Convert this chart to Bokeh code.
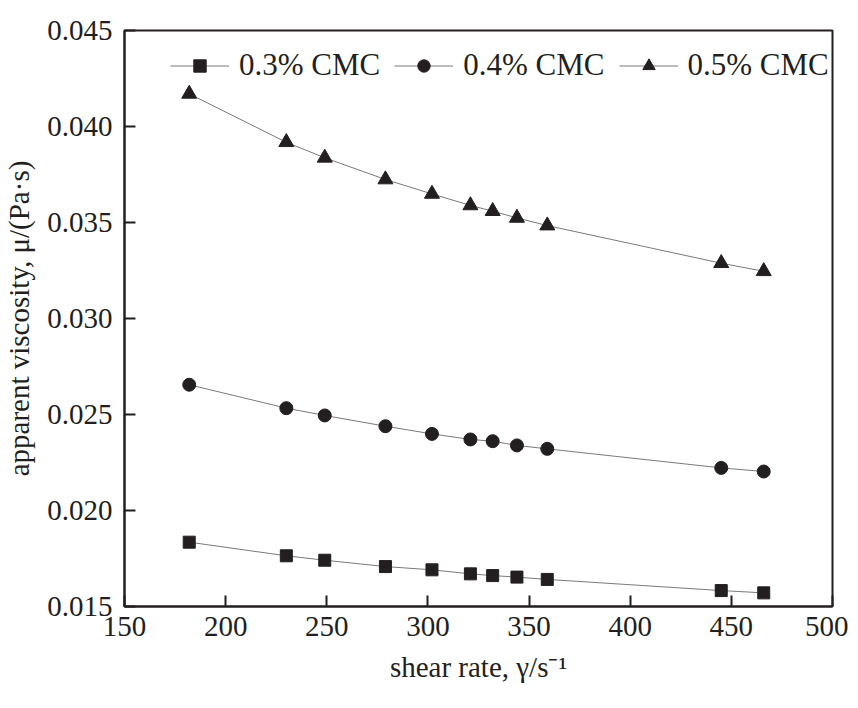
from bokeh.plotting import figure
from bokeh.embed import file_html
from bokeh.resources import INLINE
from bokeh.models import FixedTicker, PrintfTickFormatter, Range1d

# data
shear_rate = [182, 230, 249, 279, 302, 321, 332, 344, 359, 445, 466]
cmc_03 = [0.01835, 0.01764, 0.01741, 0.01708, 0.01691, 0.01670, 0.01661, 0.01653, 0.01641, 0.01583, 0.01571]
cmc_04 = [0.02655, 0.02533, 0.02495, 0.02439, 0.02399, 0.02370, 0.02361, 0.02339, 0.02321, 0.02222, 0.02203]
cmc_05 = [0.04170, 0.03918, 0.03837, 0.03724, 0.03649, 0.03589, 0.03559, 0.03524, 0.03484, 0.03288, 0.03246]
series_labels = ["0.3% CMC", "0.4% CMC", "0.5% CMC"]
x_ticks = [150, 200, 250, 300, 350, 400, 450, 500]
y_ticks = [0.015, 0.020, 0.025, 0.030, 0.035, 0.040, 0.045]

FONT = "Liberation Serif"
INK = "#231f20"

p = figure(frame_width=708, frame_height=576,
           min_border_left=118, min_border_top=30, min_border_right=16, min_border_bottom=86,
           x_range=Range1d(150, 500), y_range=Range1d(0.015, 0.045),
           output_backend="svg", toolbar_location=None)

p.xgrid.visible = False
p.ygrid.visible = False
p.outline_line_color = INK
p.outline_line_width = 2
p.outline_line_alpha = 1
p.background_fill_color = "white"
p.border_fill_color = "white"

for ax in (p.xaxis[0], p.yaxis[0]):
    ax.axis_line_color = INK
    ax.axis_line_width = 2
    ax.major_tick_line_color = INK
    ax.major_tick_line_width = 2
    ax.major_tick_in = 11
    ax.major_tick_out = 0
    ax.minor_tick_line_color = None
    ax.major_label_text_font = FONT
    ax.major_label_text_font_size = "29px"
    ax.major_label_text_color = INK
    ax.axis_label_text_font = FONT
    ax.axis_label_text_font_size = "29px"
    ax.axis_label_text_font_style = "normal"
    ax.axis_label_text_color = INK

p.xaxis.ticker = FixedTicker(ticks=x_ticks)
p.yaxis.ticker = FixedTicker(ticks=y_ticks)
p.xaxis.formatter = PrintfTickFormatter(format="%d")
p.yaxis.formatter = PrintfTickFormatter(format="%.3f")
p.xaxis.major_label_standoff = 10
p.yaxis.major_label_standoff = 12
p.xaxis.axis_label = "shear rate, γ/s⁻¹"
p.yaxis.axis_label = "apparent viscosity, μ/(Pa·s)"
p.xaxis.axis_label_standoff = 12
p.yaxis.axis_label_standoff = 9

series = [cmc_03, cmc_04, cmc_05]
markers = ["square", "circle", "triangle"]
sizes = [12, 13, 15]
for ys, lab, mk, sz in zip(series, series_labels, markers, sizes):
    p.line(shear_rate, ys, line_color="#7a7a7a", line_width=1, legend_label=lab)
    p.scatter(shear_rate, ys, marker=mk, size=sz, fill_color=INK, line_color=INK, legend_label=lab)

lg = p.legend[0]
lg.location = (46, 523)
lg.orientation = "horizontal"
lg.border_line_color = None
lg.background_fill_alpha = 0
lg.label_text_font = FONT
lg.label_text_font_size = "31px"
lg.label_text_color = INK
lg.glyph_width = 59
lg.glyph_height = 31
lg.label_height = 30
lg.label_standoff = 10
lg.spacing = 14
lg.padding = 0
lg.margin = 0

open("out.html", "w").write(file_html(p, INLINE))
